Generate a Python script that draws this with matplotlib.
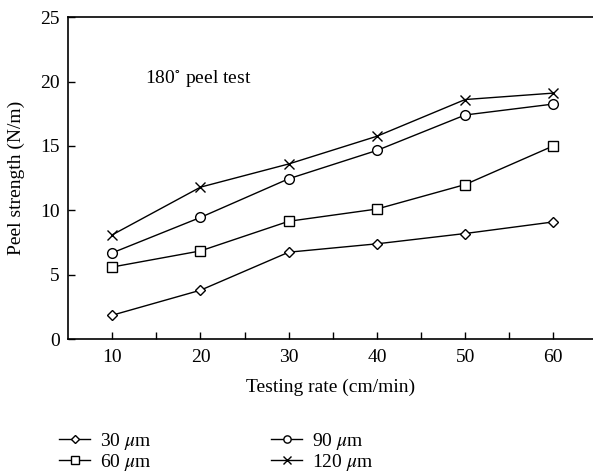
import numpy as np
import matplotlib.pyplot as plt

plt.rcParams['font.family'] = ['Liberation Serif', 'DejaVu Serif']
plt.rcParams['mathtext.fontset'] = 'stix'

rate = [10, 20, 30, 40, 50, 60]
s30 = [1.86, 3.8, 6.75, 7.4, 8.2, 9.1]
s60 = [5.6, 6.85, 9.15, 10.1, 12.0, 15.0]
s90 = [6.7, 9.45, 12.45, 14.65, 17.4, 18.25]
s120 = [8.1, 11.8, 13.6, 15.75, 18.6, 19.1]

fig = plt.figure(figsize=(5.93, 4.75), dpi=100)
ax = fig.add_axes([0.115, 0.286, 0.885, 0.678])

kw = dict(color='black', lw=1.0, mfc='white', mec='black', mew=1.0)
l1, = ax.plot(rate, s30, marker='D', ms=5, label=r'30 $\mu$m', **kw)
l3, = ax.plot(rate, s90, marker='o', ms=7, label=r'90 $\mu$m', **kw)
l2, = ax.plot(rate, s60, marker='s', ms=7, label=r'60 $\mu$m', **kw)
l4, = ax.plot(rate, s120, marker='x', ms=7.5, label=r'120 $\mu$m', **kw)

ax.set_xlim(5, 64.5)
ax.set_ylim(0, 25)
ax.set_xticks(rate)
ax.set_xticks([15, 25, 35, 45, 55], minor=True)
ax.set_yticks([0, 5, 10, 15, 20, 25])
ax.tick_params(direction='in', labelsize=14, length=5, width=1)
ax.tick_params(which='minor', direction='in', length=5, width=1)
ax.tick_params(axis='x', pad=7)
ax.tick_params(axis='y', pad=6)
for s in ax.spines.values():
    s.set_linewidth(1.2)
ax.spines['right'].set_visible(False)

ax.set_xlabel('Testing rate (cm/min)', fontsize=14, labelpad=9)
ax.set_ylabel('Peel strength (N/m)', fontsize=14, labelpad=11)
ax.text(13.7, 20.2, '180$^{\\circ}$ peel test', fontsize=14, va='center')

fig.legend(handles=[l1, l2, l3, l4], ncol=2, loc='upper left',
           bbox_to_anchor=(0.1, 0.092), frameon=False, fontsize=14,
           handlelength=1.6, columnspacing=6.15, labelspacing=0.0,
           handletextpad=0.5, markerscale=0.75, borderaxespad=0,
           borderpad=0)

fig.savefig('out.png', dpi=100)
